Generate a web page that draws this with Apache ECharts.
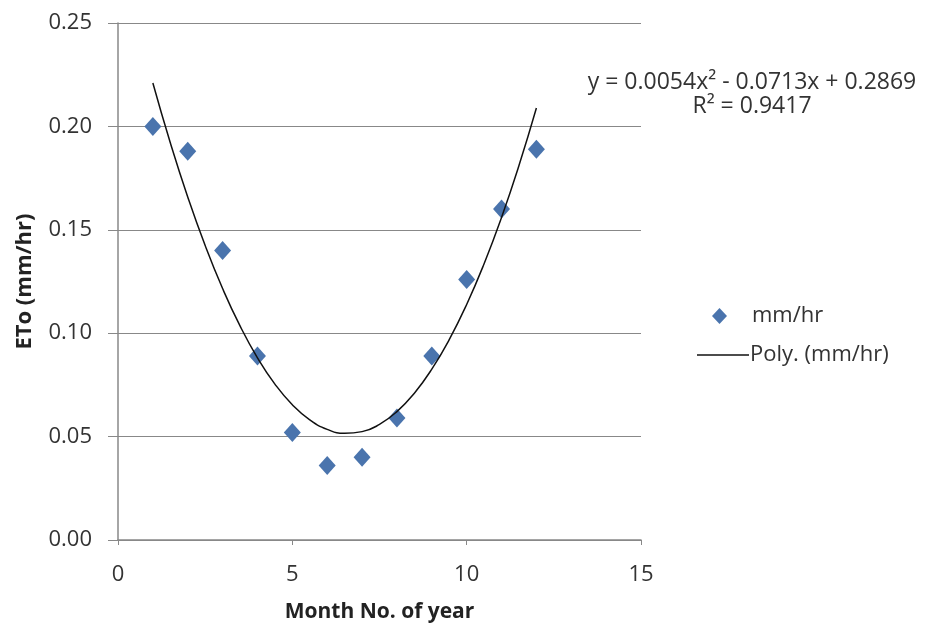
<!DOCTYPE html>
<html>
<head>
<meta charset="utf-8">
<script src="https://cdn.jsdelivr.net/npm/echarts@6/dist/echarts.min.js"></script>
<style>
  html, body { margin: 0; padding: 0; background: #fff; }
  #chart { width: 934px; height: 630px; }
</style>
</head>
<body>
<div id="chart"></div>
<script>
// monthly ETo points
var months = [1, 2, 3, 4, 5, 6, 7, 8, 9, 10, 11, 12];
var etoValues = [0.200, 0.188, 0.140, 0.089, 0.052, 0.036, 0.040, 0.059, 0.089, 0.126, 0.160, 0.189];

// polynomial trend line
var trendX = [1, 1.5, 2, 2.5, 3, 3.5, 4, 4.5, 5, 5.5, 6, 6.5, 7, 7.5, 8, 8.5, 9, 9.5, 10, 10.5, 11, 11.5, 12];
var trendY = [0.2210, 0.1921, 0.1659, 0.1424, 0.1216, 0.1035, 0.0881, 0.0754, 0.0654, 0.0581, 0.0535, 0.0516,
  0.0524, 0.0559, 0.0621, 0.0710, 0.0826, 0.0969, 0.1139, 0.1336, 0.1560, 0.1811, 0.2089];

var eqText = 'y = 0.0054x\u00b2 - 0.0713x + 0.2869';
var r2Text = 'R\u00b2 = 0.9417';

var font = '"Open Sans", "Liberation Sans", sans-serif';
var gray = '#888888';

var chart = echarts.init(document.getElementById('chart'));

var option = {
  backgroundColor: '#fff',
  animation: false,
  textStyle: { fontFamily: font },
  grid: { left: 118, right: 293, top: 23, bottom: 90, containLabel: false },
  xAxis: {
    type: 'value',
    min: 0, max: 15, interval: 5,
    name: 'Month No. of year',
    nameLocation: 'middle',
    nameGap: 62,
    nameTextStyle: { fontFamily: font, fontSize: 21, fontWeight: 'bold', color: '#222' },
    axisLine: { show: true, lineStyle: { color: gray, width: 1.5 } },
    axisTick: { show: true, length: 5, lineStyle: { color: gray } },
    axisLabel: { fontFamily: font, fontSize: 22, color: '#333', margin: 24 },
    splitLine: { show: false }
  },
  yAxis: {
    type: 'value',
    min: 0, max: 0.25, interval: 0.05,
    name: 'ETo (mm/hr)',
    nameLocation: 'middle',
    nameGap: 82,
    nameRotate: 90,
    nameTextStyle: { fontFamily: font, fontSize: 22, fontWeight: 'bold', color: '#222' },
    axisLine: { show: true, lineStyle: { color: gray, width: 1.5 } },
    axisTick: { show: true, length: 10, lineStyle: { color: gray } },
    axisLabel: {
      fontFamily: font, fontSize: 22, color: '#333', margin: 26,
      formatter: function (v) { return v.toFixed(2); }
    },
    splitLine: { show: true, lineStyle: { color: gray, width: 1.2 } }
  },
  legend: [{
    data: [{ name: 'mm/hr', icon: 'diamond' }],
    left: 707, top: 300,
    itemWidth: 15, itemHeight: 16,
    itemGap: 10,
    textStyle: { fontFamily: font, fontSize: 22, color: '#333', padding: [0, 0, 0, 20] }
  }, {
    data: [{ name: 'Poly. (mm/hr)', icon: 'path://M0,0 H100 V3 H0 Z' }],
    left: 692, top: 339,
    itemWidth: 52, itemHeight: 2,
    itemGap: 0,
    textStyle: { fontFamily: font, fontSize: 22, color: '#333', padding: [0, 0, 0, -4] }
  }],
  graphic: [{
    type: 'text',
    x: 752, y: 70,
    style: {
      text: eqText + '\n' + r2Text,
      fontFamily: font, fontSize: 23, fill: '#333',
      align: 'center', verticalAlign: 'top', lineHeight: 24
    }
  }],
  series: [{
    name: 'Poly. (mm/hr)',
    type: 'line',
    data: trendX.map(function (x, i) { return [x, trendY[i]]; }),
    smooth: true,
    symbol: 'none',
    lineStyle: { color: '#111', width: 1.5 },
    itemStyle: { color: '#111' },
    z: 3
  }, {
    name: 'mm/hr',
    type: 'scatter',
    data: months.map(function (m, i) { return [m, etoValues[i]]; }),
    symbol: 'diamond',
    symbolSize: [17, 19],
    itemStyle: { color: '#4a74ad', opacity: 1 },
    z: 2
  }]
};

chart.setOption(option);
</script>
</body>
</html>
